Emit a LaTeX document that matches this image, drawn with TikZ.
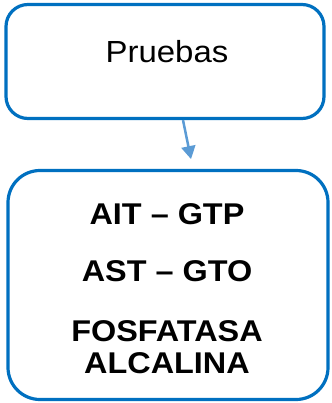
\documentclass[tikz,border=0pt]{standalone}
\usepackage{fontspec}
\setmainfont{Liberation Sans}
\newfontfamily\widesans[FakeStretch=1.08]{Liberation Sans}
\usetikzlibrary{arrows.meta}

\definecolor{boxblue}{HTML}{0070C0}
\definecolor{arrowblue}{HTML}{5B9BD5}

\begin{document}
\begin{tikzpicture}[x=1pt,y=-1pt,
    roundbox/.style={draw=boxblue, line width=3.2pt, rounded corners=22pt, fill=white},
    link/.style={draw=arrowblue, line width=2.5pt, -{Triangle[length=13pt,width=14pt]}}]
    \useasboundingbox (0,0) rectangle (331,403);

    % upper box
    \node [roundbox, minimum width=318pt, minimum height=114pt] (pruebas) at (165,61.5) {};
    \node [font=\widesans\fontsize{30.5}{34}\selectfont] (titulo) at (167,52) {Pruebas};

    % lower box with the list of tests
    \node [roundbox, rounded corners=32pt, minimum width=320pt, minimum height=229pt] (lista) at (168,285) {};
    \node [font=\widesans\fontsize{30}{32}\selectfont\bfseries, align=center] (tests) at (167,289)
        {AIT – GTP\\[25pt] AST – GTO\\[28pt] FOSFATASA\\ ALCALINA};

    \draw [link, shorten >=10pt] ([xshift=18pt]pruebas.south) -- ([xshift=25pt]lista.north);
\end{tikzpicture}
\end{document}
